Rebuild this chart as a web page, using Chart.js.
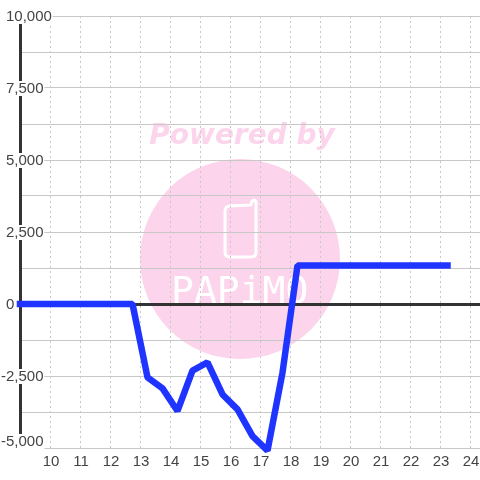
<!DOCTYPE html>
<html>
<head>
<meta charset="utf-8">
<style>
  html, body { margin: 0; padding: 0; background: #fff; }
  canvas { display: block; }
</style>
<script src="https://cdn.jsdelivr.net/npm/chart.js@4/dist/chart.umd.min.js"></script>
</head>
<body>
<canvas id="chart" width="480" height="480"></canvas>
<script>
const hours = [9, 12.75, 13.25, 13.75, 14.25, 14.75, 15.25, 15.75, 16.25, 16.75, 17.25, 17.75, 18.25, 18.75, 19.25, 19.75, 20.25, 20.75, 21.25, 21.75, 22.25, 22.75, 23.25];
const balance = [0, 0, -2550, -2930, -3715, -2310, -2030, -3140, -3660, -4590, -5090, -2380, 1340, 1340, 1340, 1340, 1340, 1340, 1340, 1340, 1340, 1340, 1340];
const yLabels = [10000, 7500, 5000, 2500, 0, -2500, -5000];

const LABEL_FONT = "15px 'Liberation Sans', Arial, sans-serif";
const LABEL_COLOR = "#444444";
const GRID_COLOR = "#c8c8c8";
const AXIS_COLOR = "#333333";
const PINK = "#fcd5ec";

// pink logo behind the grid
const watermark = {
  id: "watermark",
  beforeDraw(chart) {
    const ctx = chart.ctx;
    ctx.save();
    ctx.fillStyle = "#ffffff";
    ctx.fillRect(0, 0, chart.width, chart.height);

    ctx.fillStyle = PINK;
    ctx.beginPath();
    ctx.arc(240, 259, 100, 0, Math.PI * 2);
    ctx.fill();

    ctx.font = "italic bold 28px 'DejaVu Sans'";
    ctx.textAlign = "center";
    ctx.textBaseline = "alphabetic";
    ctx.fillText("Powered by", 242, 144);

    // phone icon
    ctx.strokeStyle = "#ffffff";
    ctx.lineWidth = 3;
    ctx.lineJoin = "round";
    ctx.beginPath();
    ctx.moveTo(230, 206);
    ctx.lineTo(251, 205);
    ctx.lineTo(252, 201);
    ctx.quadraticCurveTo(255, 199, 256, 202);
    ctx.lineTo(256, 252);
    ctx.quadraticCurveTo(256, 257, 251, 257);
    ctx.lineTo(230, 257);
    ctx.quadraticCurveTo(225, 257, 225, 252);
    ctx.lineTo(225, 211);
    ctx.quadraticCurveTo(225, 206, 230, 206);
    ctx.stroke();

    ctx.fillStyle = "#ffffff";
    ctx.font = "38px 'DejaVu Sans Mono'";
    ctx.textAlign = "left";
    ctx.fillText("PAPiMO", 171, 303);
    ctx.restore();
  }
};

// y labels sit on top of the axis with a white box behind them
const yTickLabels = {
  id: "yTickLabels",
  beforeDatasetsDraw(chart) {
    const ctx = chart.ctx;
    const scale = chart.scales.y;
    ctx.save();
    ctx.font = LABEL_FONT;
    ctx.textAlign = "left";
    ctx.textBaseline = "middle";
    const hyphen = ctx.measureText("-").width;
    yLabels.forEach((value) => {
      const text = value.toLocaleString("en-US");
      const x = value < 0 ? 6 - hyphen : 6;
      let y = scale.getPixelForValue(value) + 1;
      if (value === scale.min) y -= 7;
      ctx.fillStyle = "#ffffff";
      ctx.fillRect(x - 1, y - 8, ctx.measureText(text).width + 2, 15);
      ctx.fillStyle = LABEL_COLOR;
      ctx.fillText(text, x, y);
    });
    ctx.restore();
  }
};

new Chart(document.getElementById("chart"), {
  type: "line",
  data: {
    datasets: [{
      data: hours.map((h, i) => ({ x: h, y: balance[i] })),
      borderColor: "#1f35ff",
      borderWidth: 6.5,
      borderCapStyle: "square",
      borderJoinStyle: "bevel",
      pointRadius: 0,
      tension: 0,
      clip: false
    }]
  },
  options: {
    responsive: false,
    animation: false,
    layout: { padding: { left: 20, top: 16, right: 0, bottom: 0 } },
    plugins: { legend: { display: false }, tooltip: { enabled: false } },
    scales: {
      x: {
        type: "linear",
        min: 9,
        max: 24.3333,
        afterFit(scale) {
          scale.height = 32;
          scale.paddingLeft = 0;
          scale.paddingRight = 0;
        },
        border: { display: false, dash: [2, 3] },
        grid: { color: GRID_COLOR, lineWidth: 1, drawTicks: false },
        ticks: {
          stepSize: 1,
          includeBounds: false,
          autoSkip: false,
          maxRotation: 0,
          padding: 5,
          labelOffset: 1,
          font: { family: "'Liberation Sans', Arial, sans-serif", size: 15 },
          color: LABEL_COLOR,
          callback: (v) => (v === 9 ? "" : String(v))
        }
      },
      y: {
        min: -5000,
        max: 10000,
        afterFit(scale) { scale.width = 0; },
        border: { display: true, color: AXIS_COLOR, width: 3 },
        grid: {
          drawTicks: false,
          color: (c) => (c.tick.value === 0 ? AXIS_COLOR : GRID_COLOR),
          lineWidth: (c) => (c.tick.value === 0 ? 3 : 1)
        },
        ticks: { display: false, stepSize: 1250 }
      }
    }
  },
  plugins: [watermark, yTickLabels]
});
</script>
</body>
</html>
